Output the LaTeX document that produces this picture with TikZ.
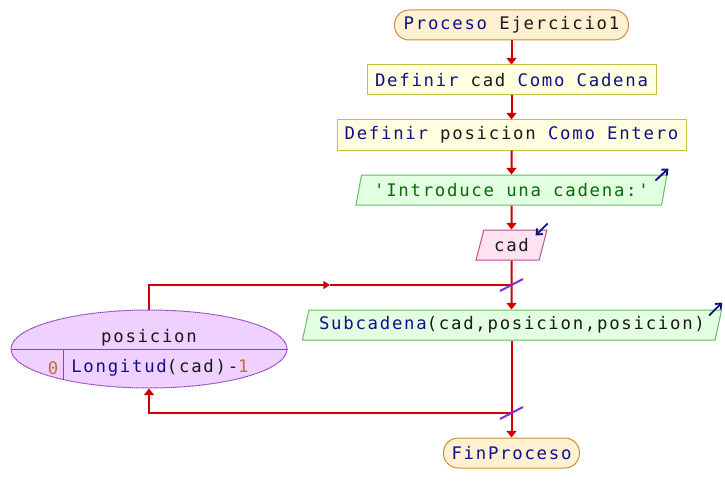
\documentclass[tikz,border=0pt]{standalone}
\usepackage{fontspec}
\setmonofont[LetterSpace=10]{DejaVu Sans Mono}
\usetikzlibrary{shapes.geometric,arrows.meta}
\definecolor{kw}{HTML}{10108A}
\definecolor{idc}{HTML}{1A1A1A}
\definecolor{strc}{HTML}{0A6A0A}
\definecolor{numc}{HTML}{C07030}
\definecolor{termf}{HTML}{FFF0D2}
\definecolor{termb}{HTML}{C8903C}
\definecolor{deff}{HTML}{FFFFE0}
\definecolor{defb}{HTML}{C8C040}
\definecolor{outf}{HTML}{E2FFE2}
\definecolor{outb}{HTML}{60C060}
\definecolor{inf}{HTML}{FFE2F2}
\definecolor{inb}{HTML}{C05080}
\definecolor{ellf}{HTML}{F0D0FF}
\definecolor{ellb}{HTML}{9040C0}
\definecolor{flowc}{HTML}{CC0000}
\definecolor{slashc}{HTML}{8030D0}
\definecolor{ioc}{HTML}{101080}
\begin{document}
\begin{tikzpicture}[x=0.75pt,y=-0.75pt,
  font=\ttfamily\fontsize{13}{15}\selectfont,
  every node/.style={text=idc},
  terminal/.style={draw=termb, fill=termf, rounded corners=11pt, minimum height=22.5pt, inner sep=0pt, line width=0.75pt},
  defbox/.style={draw=defb, fill=deff, minimum height=22.5pt, inner sep=0pt, line width=0.75pt},
  iobox/.style={trapezium, trapezium left angle=70, trapezium right angle=110, trapezium stretches=true, minimum height=22.5pt, inner sep=0pt, line width=0.75pt},
  outbox/.style={iobox, draw=outb, fill=outf},
  inbox/.style={iobox, draw=inb, fill=inf},
  loopell/.style={ellipse, draw=ellb, fill=ellf, dash pattern=on 1pt off 0.4pt, line width=0.75pt, inner sep=0pt},
  loopline/.style={draw=ellb, line width=0.75pt},
  flow/.style={draw=flowc, line width=1.5pt},
  flowtip/.tip={Triangle[width=7.5pt,length=5pt]},
  smalltip/.tip={Triangle[width=6pt,length=5pt]},
  slash/.style={draw=slashc, line width=1.5pt},
  ioarrow/.style={draw=ioc, line width=1.4pt, -{Straight Barb[length=3.5pt,width=6pt]}}
]
\useasboundingbox (0,0) rectangle (725,503);

\node[terminal, minimum width=175.5pt] (start) at (511.5,25) {\textcolor{kw}{Proceso} Ejercicio1};
\node[defbox, minimum width=216.75pt] (d1) at (511.5,80) {\textcolor{kw}{Definir} cad \textcolor{kw}{Como Cadena}};
\node[defbox, minimum width=261.75pt] (d2) at (511.5,135) {\textcolor{kw}{Definir} posicion \textcolor{kw}{Como Entero}};
\node[outbox, minimum width=233.25pt] (o1) at (511.5,190) {\textcolor{strc}{'Introduce una cadena:'}};
\node[inbox, minimum width=53.25pt] (i1) at (511.5,245) {cad};
\node[outbox, minimum width=315pt] (o2) at (512,325) {\textcolor{kw}{Subcadena}(cad,posicion,posicion)};
\node[loopell, minimum width=207pt, minimum height=58.5pt] (ell) at (149,349) {};
\node[terminal, minimum width=102pt] (end) at (511.5,453) {\textcolor{kw}{FinProceso}};

% loop header contents
\draw[loopline] (ell.west) -- (ell.east);
\draw[loopline] (ell.200 |- ell.center) -- (ell.200);
\node (lvar) at (149,338) {posicion};
\node (lfrom) at (53,368) {\textcolor{numc}{0}};
\node (lto) at (160,368) {\textcolor{kw}{Longitud}(cad)-\textcolor{numc}{1}};

% junctions
\coordinate (j1) at (511.5,285);
\coordinate (m1) at (330,285);
\coordinate (j2) at (511.5,413);

% flow
\draw[flow,-flowtip] (start) -- (d1);
\draw[flow,-flowtip] (d1) -- (d2);
\draw[flow,-flowtip] (d2) -- (o1);
\draw[flow,-flowtip] (o1) -- (i1);
\draw[flow,-flowtip] (i1.south) -- (j1) -- (j1 |- o2.north);
\draw[flow,-flowtip] (o2.south -| j2) -- (j2) -- (end.north);
\draw[flow,-smalltip] (ell.north) |- (m1);
\draw[flow] (m1) -- (j1);
\draw[flow,-flowtip] (j2) -| (ell.south);

% slashes
\draw[slash] ([shift={(-11.5,6)}]j1) -- ([shift={(11.5,-6)}]j1);
\draw[slash] ([shift={(-11.5,6)}]j2) -- ([shift={(11.5,-6)}]j2);

% io markers
\draw[ioarrow] ([shift={(-12,6)}]o1.top right corner) -- ([shift={(1,-6)}]o1.top right corner);
\draw[ioarrow] ([shift={(0,-6)}]i1.top right corner) -- ([shift={(-12,6)}]i1.top right corner);
\draw[ioarrow] ([shift={(-13,6)}]o2.top right corner) -- ([shift={(0,-7)}]o2.top right corner);
\end{tikzpicture}
\end{document}
